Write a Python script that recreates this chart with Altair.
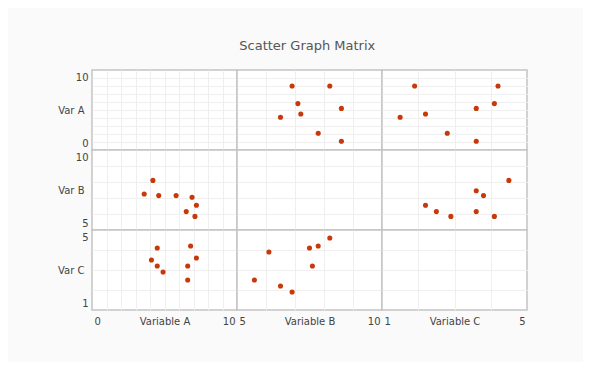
import altair as alt
import pandas as pd

FONT = "DejaVu Sans"
TXT = "#444444"
GRID = "#efefef"
PT = "#c8380a"

# variable info: x-axis title, y-axis title, domain, grid values
x_titles = {"a": "Variable A", "b": "Variable B", "c": "Variable C"}
y_titles = {"a": "Var A", "b": "Var B", "c": "Var C"}
domains = {"a": [0, 10], "b": [5, 10], "c": [1, 5]}
grids = {"a": [0, 1, 2, 3, 4, 5, 6, 7, 8, 9, 10], "b": [5, 6, 7, 8, 9, 10], "c": [1, 2, 3, 4, 5]}

# panel data: (row variable, column variable) -> x values (column var), y values (row var)
ab_x = [6.9, 8.2, 7.1, 8.6, 7.2, 6.5, 7.8, 8.6]
ab_y = [8.0, 8.0, 5.8, 5.2, 4.5, 4.1, 2.1, 1.1]
ac_x = [1.9, 4.2, 4.1, 3.6, 2.2, 1.5, 2.8, 3.6]
ac_y = [8.0, 8.0, 5.8, 5.2, 4.5, 4.1, 2.1, 1.1]
ba_x = [4.2, 3.6, 4.6, 5.8, 6.9, 7.2, 6.5, 7.1]
ba_y = [8.1, 7.25, 7.15, 7.15, 7.05, 6.55, 6.15, 5.85]
bc_x = [4.5, 3.6, 3.8, 2.2, 2.5, 3.6, 2.9, 4.1]
bc_y = [8.1, 7.45, 7.15, 6.55, 6.15, 6.15, 5.85, 5.85]
ca_x = [4.5, 6.8, 4.1, 7.2, 4.5, 6.6, 4.9, 6.6]
ca_y = [4.1, 4.2, 3.5, 3.6, 3.2, 3.2, 2.9, 2.5]
cb_x = [6.1, 5.6, 7.5, 7.8, 8.2, 7.6, 6.5, 6.9]
cb_y = [3.9, 2.5, 4.1, 4.2, 4.6, 3.2, 2.2, 1.9]

panels = {
    ("a", "b"): (ab_x, ab_y),
    ("a", "c"): (ac_x, ac_y),
    ("b", "a"): (ba_x, ba_y),
    ("b", "c"): (bc_x, bc_y),
    ("c", "a"): (ca_x, ca_y),
    ("c", "b"): (cb_x, cb_y),
}

order = ["a", "b", "c"]
W, H = 145, 80


def end_test(v):
    lo, hi = domains[v]
    return f"datum.value == {lo} || datum.value == {hi}"


def cell(rv, cv, ri, ci):
    if (rv, cv) in panels:
        xs, ys = panels[(rv, cv)]
        df = pd.DataFrame({"x": xs, "y": ys})
    else:
        df = pd.DataFrame({"x": pd.Series([], dtype=float), "y": pd.Series([], dtype=float)})

    xk = dict(values=grids[cv], grid=True,
              gridColor={"condition": {"test": end_test(cv), "value": "transparent"}, "value": GRID},
              gridWidth=1, ticks=False, domain=False, labelOverlap=False)
    if ri == 2:
        xk.update(labels=True, labelExpr=f"({end_test(cv)}) ? datum.label : ''",
                  labelFlush=True, labelFlushOffset=-2,
                  labelPadding=6, labelFontSize=10, labelColor=TXT, labelFont=FONT,
                  title=x_titles[cv], titleY=6, titleBaseline="top", titleFontSize=10,
                  titleFontWeight="normal", titleColor=TXT, titleFont=FONT)
    else:
        xk.update(labels=False, title=None)

    yk = dict(values=grids[rv], grid=True,
              gridColor={"condition": {"test": end_test(rv), "value": "transparent"}, "value": GRID},
              gridWidth=1, ticks=False, domain=False, labelOverlap=False)
    if ci == 0:
        yk.update(labels=True, labelExpr=f"({end_test(rv)}) ? datum.label : ''",
                  labelFlush=True, labelFlushOffset=-2, labelPadding=4,
                  labelFontSize=10, labelColor=TXT, labelFont=FONT,
                  title=y_titles[rv], titleAngle=0, titleAlign="right", titleBaseline="middle",
                  titleX=-8, titleY=H / 2, titleFontSize=10, titleFontWeight="normal",
                  titleColor=TXT, titleFont=FONT)
    else:
        yk.update(labels=False, title=None)

    return alt.Chart(df).mark_circle(size=26, color=PT, opacity=1).encode(
        x=alt.X("x:Q", scale=alt.Scale(domain=domains[cv], nice=False, zero=False), axis=alt.Axis(**xk)),
        y=alt.Y("y:Q", scale=alt.Scale(domain=domains[rv], nice=False, zero=False), axis=alt.Axis(**yk)),
    ).properties(width=W, height=H)


cells = [cell(rv, cv, ri, ci) for ri, rv in enumerate(order) for ci, cv in enumerate(order)]

chart = alt.concat(*cells, columns=3, spacing=0, bounds="flush").properties(
    title=alt.Title("Scatter Graph Matrix", fontSize=13, fontWeight="normal", color="#555555",
                    font=FONT, anchor="middle", frame="bounds", offset=16, dx=15),
    background="#fafafa",
    padding={"left": 48, "top": 32, "right": 55, "bottom": 35},
).configure_view(stroke="#c4c4c4", strokeWidth=1.5, fill="white")

chart.save("out.html", embed_options={"renderer": "svg", "actions": False})
